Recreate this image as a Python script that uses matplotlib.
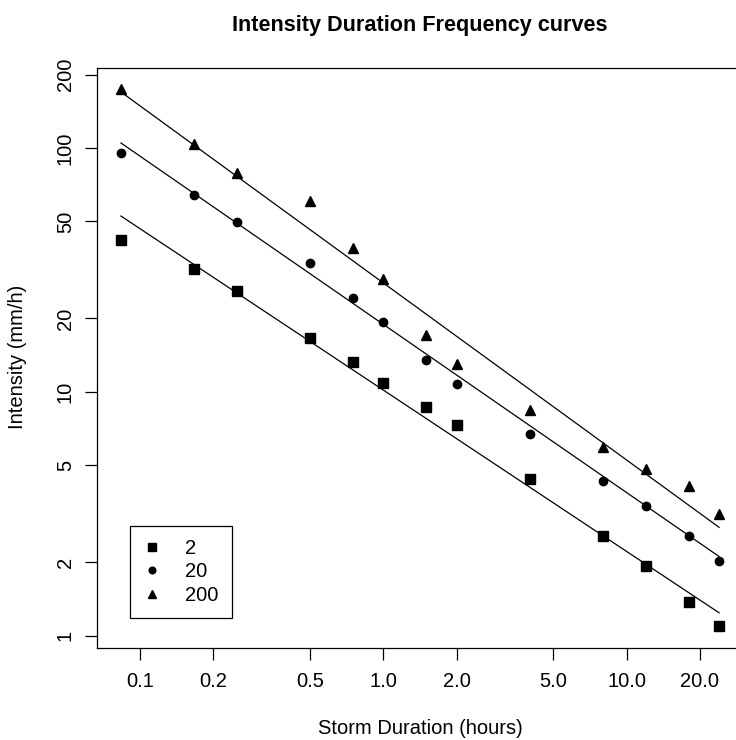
import matplotlib
matplotlib.use("Agg")
import matplotlib.pyplot as plt
from matplotlib.ticker import FixedLocator, NullLocator

plt.rcParams['font.family'] = ['Liberation Sans', 'DejaVu Sans']

# storm durations in hours (5, 10, 15, 30, 45 min, then hours)
durations = [0.0833, 0.1667, 0.25, 0.5, 0.75, 1.0, 1.5, 2.0, 4.0, 8.0, 12.0, 18.0, 24.0]

# observed intensities (mm/h) per return period
int_2 = [42.0, 31.8, 25.9, 16.7, 13.2, 10.9, 8.7, 7.3, 4.4, 2.57, 1.92, 1.37, 1.09]
int_20 = [95.3, 64.1, 49.7, 33.7, 24.2, 19.3, 13.5, 10.8, 6.7, 4.29, 3.39, 2.57, 2.03]
int_200 = [174.7, 104.0, 78.9, 60.6, 38.8, 29.0, 17.1, 13.0, 8.4, 5.92, 4.8, 4.09, 3.14]

# fitted curves, read at first and last duration
fit_x = [0.0833, 24.0]
fit_2 = [52.6, 1.24]
fit_20 = [104.9, 2.11]
fit_200 = [169.8, 2.78]

labels = ['2', '20', '200']
markers = ['s', 'o', '^']
sizes = [6.5, 6.0, 7.5]

xticks = [0.1, 0.2, 0.5, 1.0, 2.0, 5.0, 10.0, 20.0]
xticklabels = ['0.1', '0.2', '0.5', '1.0', '2.0', '5.0', '10.0', '20.0']
yticks = [1, 2, 5, 10, 20, 50, 100, 200]

fig = plt.figure(figsize=(7.36, 7.4), dpi=100)
# plot region runs past the right edge of the picture, like the original
ax = fig.add_axes([97 / 736, 92 / 740, 646 / 736, 580.5 / 740])

series = [int_2, int_20, int_200]
fits = [fit_2, fit_20, fit_200]
for vals, fit, lab, m, s in zip(series, fits, labels, markers, sizes):
    ax.plot(durations, vals, linestyle='none', marker=m, markersize=s,
            color='black', label=lab)
    ax.plot(fit_x, fit, color='black', linewidth=0.9)

ax.set_xscale('log')
ax.set_yscale('log')
ax.set_xlim(0.0664, 30.1)
ax.set_ylim(0.889, 214)

ax.xaxis.set_major_locator(FixedLocator(xticks))
ax.xaxis.set_minor_locator(NullLocator())
ax.set_xticklabels(xticklabels)
ax.yaxis.set_major_locator(FixedLocator(yticks))
ax.yaxis.set_minor_locator(NullLocator())
ax.set_yticklabels([str(v) for v in yticks], rotation=90, va='center')
ax.tick_params(axis='both', length=8.4, width=0.9, labelsize=14.5, color='black')
ax.tick_params(axis='x', pad=9)
ax.tick_params(axis='y', pad=7.5)
for sp in ax.spines.values():
    sp.set_linewidth(0.9)

fig.text(420 / 736, 1 - 26 / 740, 'Intensity Duration Frequency curves',
         ha='center', va='center', fontsize=15.6, fontweight='bold')
fig.text(420 / 736, 1 - 728 / 740, 'Storm Duration (hours)',
         ha='center', va='center', fontsize=14.5)
fig.text(18 / 736, 1 - 357 / 740, 'Intensity (mm/h)', rotation=90,
         ha='center', va='center', fontsize=14.5)

leg = ax.legend(loc='lower left', bbox_to_anchor=(0.051, 0.0517),
                borderaxespad=0, fontsize=14.5, numpoints=1, fancybox=False,
                edgecolor='black', framealpha=1, borderpad=0.66,
                handlelength=0.87, handletextpad=1.21, labelspacing=0.21,
                markerscale=0.8)
leg.get_frame().set_linewidth(0.9)

fig.savefig('out.png', dpi=100)
